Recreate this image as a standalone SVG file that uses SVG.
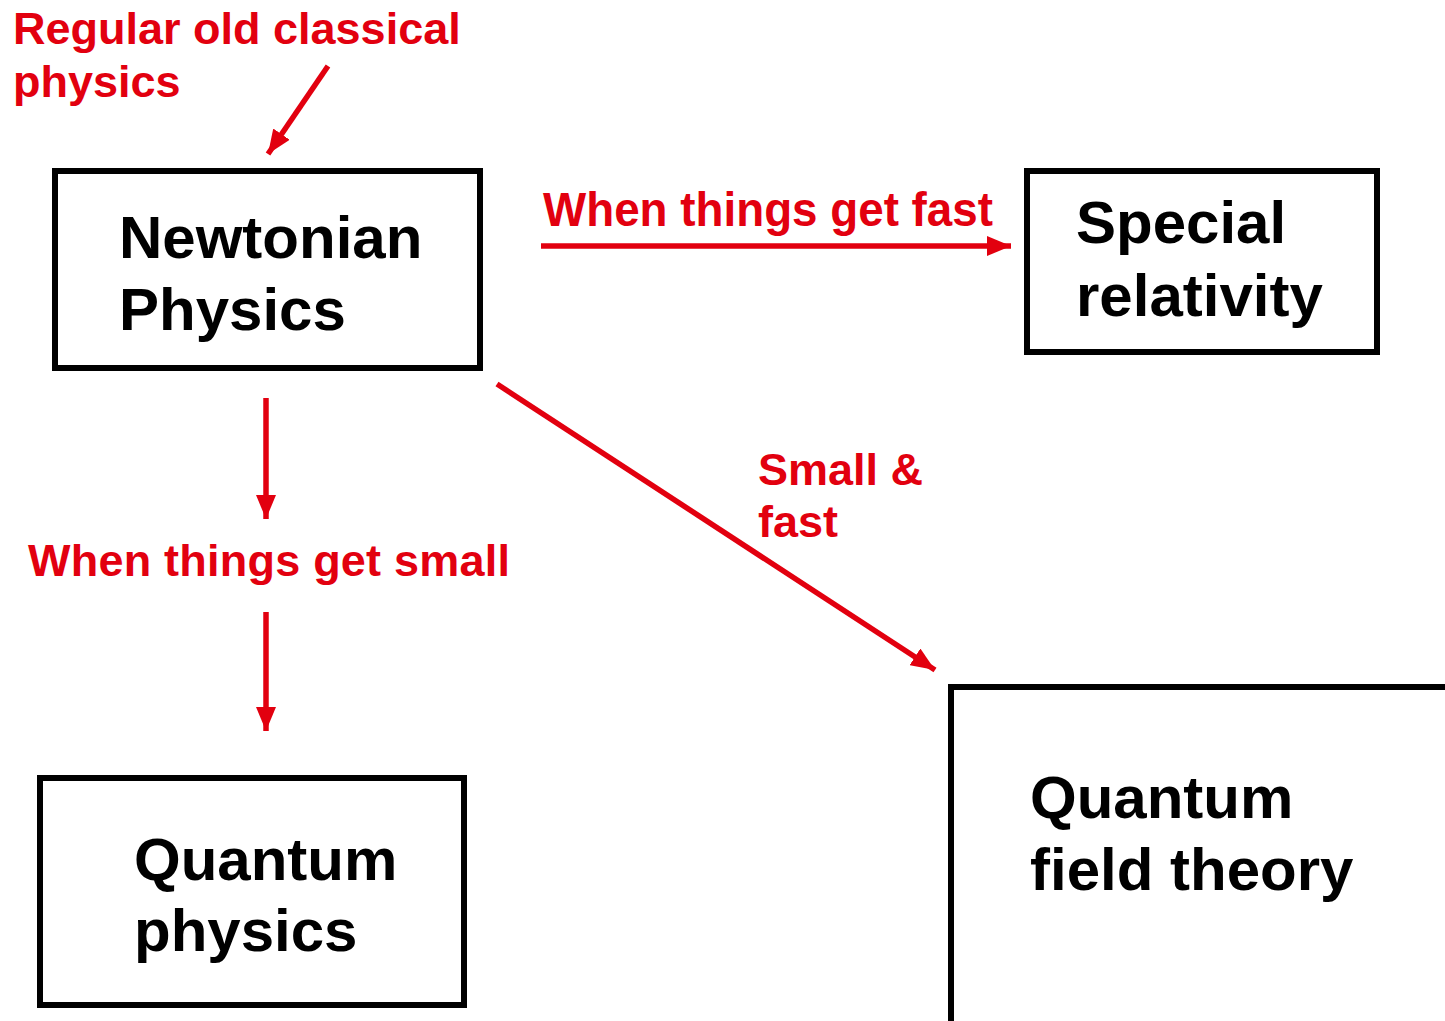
<svg xmlns="http://www.w3.org/2000/svg" width="1445" height="1021" viewBox="0 0 1445 1021">
<style>
.box{fill:#fff;stroke:#000;stroke-width:6}
.nt{font-family:"Liberation Sans",Arial,sans-serif;font-weight:bold;font-size:60px;fill:#000}
.lb{font-family:"Liberation Sans",Arial,sans-serif;font-weight:bold;font-size:45px;fill:#e2000f}
.arr{stroke:#e2000f;stroke-width:5.5;fill:none;marker-end:url(#ah)}
</style>
<defs>
<marker id="ah" markerUnits="userSpaceOnUse" markerWidth="24" markerHeight="20" refX="24" refY="10" orient="auto">
<path d="M0,0 L24,10 L0,20 z" fill="#e2000f"/>
</marker>
</defs>
<rect width="1445" height="1021" fill="#fff"/>
<g id="newtonian">
<rect class="box" x="55" y="171" width="425" height="197"/>
<text class="nt" x="119" y="258">Newtonian</text>
<text class="nt" x="119" y="330">Physics</text>
</g>
<g id="special">
<rect class="box" x="1027" y="171" width="350" height="181"/>
<text class="nt" x="1076" y="243">Special</text>
<text class="nt" x="1076" y="316">relativity</text>
</g>
<g id="quantum">
<rect class="box" x="40" y="778" width="424" height="227"/>
<text class="nt" x="134" y="880">Quantum</text>
<text class="nt" x="134" y="951">physics</text>
</g>
<g id="qft">
<rect class="box" x="951" y="687" width="520" height="360"/>
<text class="nt" x="1030" y="818">Quantum</text>
<text class="nt" x="1030" y="890">field theory</text>
</g>
<g id="labels">
<text class="lb" x="13" y="44">Regular old classical</text>
<text class="lb" x="13" y="97">physics</text>
<text class="lb" x="543" y="226" style="font-size:49px" textLength="450" lengthAdjust="spacingAndGlyphs">When things get fast</text>
<text class="lb" x="28" y="576" textLength="482">When things get small</text>
<text class="lb" x="758" y="485">Small &amp;</text>
<text class="lb" x="758" y="537">fast</text>
</g>
<g id="connectors">
<line class="arr" x1="328" y1="66" x2="268" y2="154"/>
<line class="arr" x1="541" y1="246" x2="1011" y2="246"/>
<line class="arr" x1="266" y1="398" x2="266" y2="519"/>
<line class="arr" x1="266" y1="612" x2="266" y2="731"/>
<line class="arr" x1="497" y1="384" x2="935" y2="670"/>
</g>
</svg>
